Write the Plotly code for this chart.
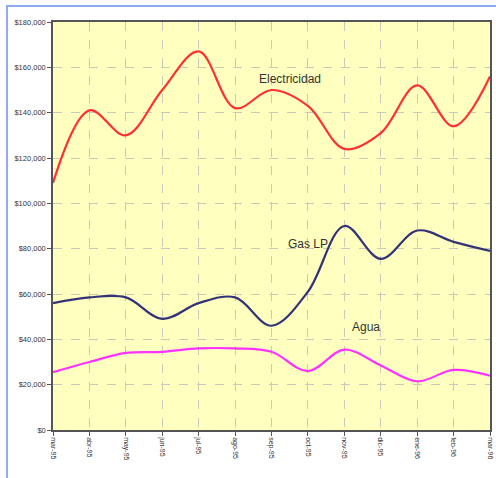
import plotly.graph_objects as go

months = ["mar-95", "abr-95", "may-95", "jun-95", "jul-95", "ago-95", "sep-95",
          "oct-95", "nov-95", "dic-95", "ene-96", "feb-96", "mar-96"]
electricidad = [109000, 141000, 130000, 150000, 167000, 142000, 150000,
                143000, 124000, 131000, 152000, 134000, 156000]
gas_lp = [56000, 58500, 58500, 49000, 56000, 58500, 46000,
          61000, 90000, 75500, 88000, 83000, 79000]
agua = [25500, 30000, 34000, 34500, 36000, 36000, 34500,
        26000, 35500, 28500, 21500, 26500, 24000]
y_ticks = [0, 20000, 40000, 60000, 80000, 100000, 120000, 140000, 160000, 180000]
y_tick_text = ["$0", "$20,000", "$40,000", "$60,000", "$80,000", "$100,000",
               "$120,000", "$140,000", "$160,000", "$180,000"]

series = [("Electricidad", electricidad, "#FF3030"),
          ("Gas LP", gas_lp, "#333377"),
          ("Agua", agua, "#FF33FF")]

fig = go.Figure()
for name, vals, col in series:
    fig.add_trace(go.Scatter(x=months, y=vals, mode="lines", name=name,
                             line=dict(color=col, width=2.2, shape="spline", smoothing=1.0)))

narrow = "Liberation Sans Narrow, Arial Narrow, Liberation Sans, sans-serif"
label_pos = [("Electricidad", 6.5, 155000), ("Gas LP", 7.0, 82000), ("Agua", 8.6, 45500)]
for txt, xi, yv in label_pos:
    fig.add_annotation(x=xi, y=yv, xref="x", yref="y", text=txt, showarrow=False,
                       font=dict(family=narrow, size=12, color="#333333"))

fig.add_shape(type="path", xref="paper", yref="paper",
              path="M -0.1053 -0.2 L -0.1053 1.0392 L 1.05 1.0392",
              line=dict(color="#8FAAF5", width=2))

fig.update_layout(
    width=496, height=478,
    margin=dict(l=53, r=6, t=22, b=48, autoexpand=False),
    paper_bgcolor="white",
    plot_bgcolor="#FFFFC0",
    showlegend=False,
    font=dict(family=narrow, color="#333333"),
    xaxis=dict(type="category", range=[0, 12], showgrid=True, automargin=False,
               gridcolor="#CACABA", griddash="dash", gridwidth=1,
               showline=True, linecolor="#555555", linewidth=1.5, mirror=True,
               ticks="outside", ticklen=4, tickcolor="#555555",
               tickangle=90, tickfont=dict(size=7, family=narrow, color="#333333"),
               zeroline=False),
    yaxis=dict(range=[0, 180000], tickvals=y_ticks, ticktext=y_tick_text, automargin=False,
               showgrid=True, gridcolor="#CACABA", griddash="dash", gridwidth=1,
               showline=True, linecolor="#555555", linewidth=1.5, mirror=True,
               ticks="outside", ticklen=4, tickcolor="#555555",
               tickfont=dict(size=7.5, family=narrow, color="#333333"),
               zeroline=False),
)

fig.write_html("out.html", config={"displayModeBar": False},
               post_script="document.body.style.margin='0';document.body.style.overflow='hidden';")
